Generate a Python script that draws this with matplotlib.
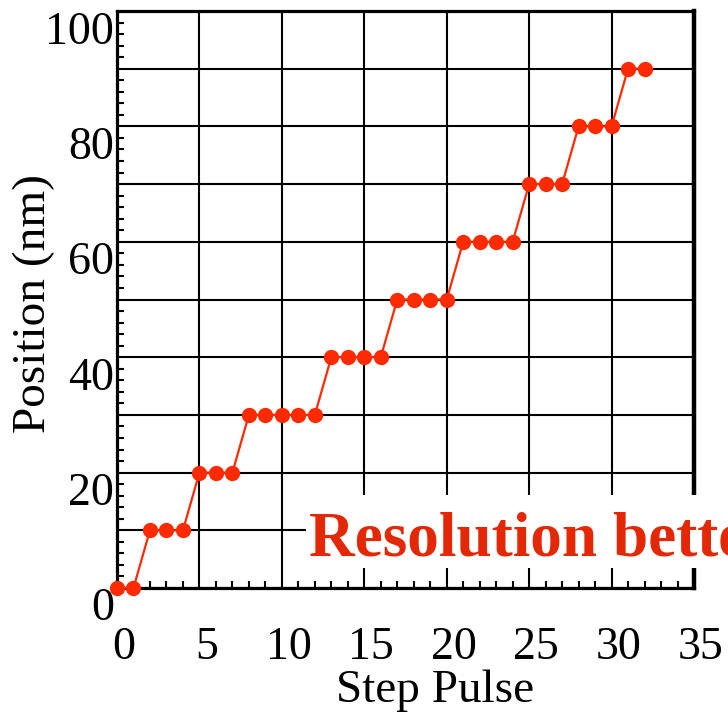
import matplotlib
matplotlib.use('Agg')
import matplotlib.pyplot as plt
import matplotlib.transforms as mtrans
from matplotlib.patches import Rectangle
import numpy as np

# data
step_pulse = list(range(0, 33))
position = [0, 0,
            10, 10, 10,
            20, 20, 20,
            30, 30, 30, 30, 30,
            40, 40, 40, 40,
            50, 50, 50, 50,
            60, 60, 60, 60,
            70, 70, 70,
            80, 80, 80,
            90, 90]

x_ticks = [0, 5, 10, 15, 20, 25, 30, 35]
y_ticks = [0, 10, 20, 30, 40, 50, 60, 70, 80, 90, 100]
y_tick_labels = ['0', '', '20', '', '40', '', '60', '', '80', '', '100']

red = '#ff2a00'
serif = 'Liberation Serif'

fig = plt.figure(figsize=(7.28, 7.14), dpi=100)
ax = fig.add_axes([117 / 728, 1 - 588 / 714, 577 / 728, 577 / 714])

ax.plot(step_pulse, position, color=red, lw=1.6, marker='o', markersize=11,
        markeredgewidth=0, clip_on=False, zorder=5)

ax.set_xlim(0, 35)
ax.set_ylim(0, 100)
ax.set_xticks(x_ticks)
ax.set_xticklabels([str(v) for v in x_ticks], fontsize=33, family=serif)
ax.set_yticks(y_ticks)
ax.set_yticklabels(y_tick_labels, fontsize=33, family=serif, va='top')
ax.set_xticks(np.arange(0, 36, 1), minor=True)
ax.set_yticks(np.arange(0, 101, 2), minor=True)

ax.grid(True, which='major', color='black', lw=1.5)
ax.tick_params(which='both', direction='in', color='black')
ax.tick_params(which='major', length=0)
ax.tick_params(which='minor', length=5, width=1.5)
ax.tick_params(axis='x', which='major', pad=28)
ax.tick_params(axis='y', which='major', pad=2)

for side in ['left', 'bottom', 'top']:
    ax.spines[side].set_linewidth(2.3)
ax.spines['right'].set_linewidth(3.2)

shift = mtrans.ScaledTranslation(7 / 100, 0, fig.dpi_scale_trans)
for lbl in ax.get_xticklabels():
    lbl.set_transform(lbl.get_transform() + shift)

fig.text(435 / 728, 1 - 702 / 714, 'Step Pulse', ha='center', va='baseline',
         fontsize=34, family=serif)
fig.text(34 / 728, 1 - 303 / 714, 'Position (nm)', ha='center', va='center',
         rotation=90, fontsize=34, family=serif)

# white box with the red note, cut off at the right edge as in the original
fig.patches.append(Rectangle((306 / 728, 1 - 568 / 714), 1, 73 / 714,
                             transform=fig.transFigure, facecolor='white',
                             edgecolor='none', zorder=10))
fig.text(309 / 728, 1 - 556 / 714, 'Resolution better than 1 nm',
         ha='left', va='baseline', fontsize=45.5, family=serif,
         fontweight='bold', color='#e42805', zorder=11)

fig.savefig('out.png', dpi=100)
